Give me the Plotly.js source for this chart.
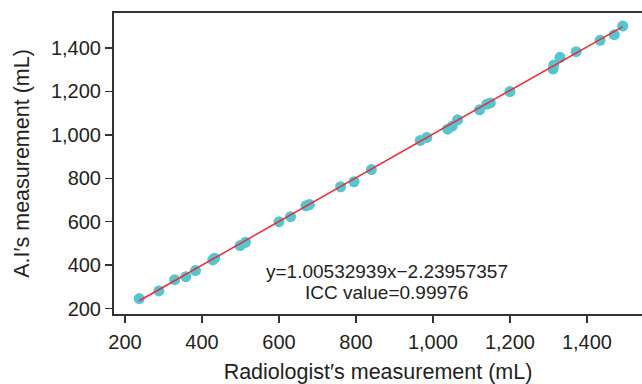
<!DOCTYPE html>
<html>
<head>
<meta charset="utf-8">
<script src="https://cdn.plot.ly/plotly-3.0.1.min.js"></script>
<style>html,body{margin:0;padding:0;background:#fff;}#chart{width:642px;height:384px;}</style>
</head>
<body>
<div id="chart"></div>
<script>
// Data
const radiologist = [237, 288, 329, 358, 383, 428, 433, 499, 513, 600, 630, 670, 679, 760, 795, 840, 967, 984, 1038, 1050, 1064, 1121, 1140, 1149, 1200, 1312, 1314, 1330, 1372, 1434, 1471, 1493];
const aiMeasure   = [246, 281, 333, 347, 375, 424, 432, 490, 505, 600, 623, 673, 679, 761, 784, 840, 974, 988, 1026, 1040, 1069, 1115, 1141, 1147, 1199, 1303, 1322, 1357, 1383, 1435, 1461, 1501];
const slope = 1.00532939;
const intercept = -2.23957357;
const iccValue = 0.99976;
const xTickVals = [200, 400, 600, 800, 1000, 1200, 1400];
const yTickVals = [200, 400, 600, 800, 1000, 1200, 1400];

const fitX = [Math.min(...radiologist), Math.max(...radiologist)];
const fitY = fitX.map(v => slope * v + intercept);

const fnt = "'Liberation Sans', Arial, sans-serif";
const txtColor = '#231f20';

const traces = [
  {
    x: radiologist, y: aiMeasure, type: 'scatter', mode: 'markers',
    marker: {color: '#55c5d1', size: 11, line: {width: 0}},
    hoverinfo: 'skip'
  },
  {
    x: fitX, y: fitY, type: 'scatter', mode: 'lines',
    line: {color: '#ee2a2f', width: 1.5},
    hoverinfo: 'skip'
  }
];

const layout = {
  width: 642, height: 384,
  margin: {l: 114, r: 0, t: 13, b: 70},
  paper_bgcolor: '#fff', plot_bgcolor: '#fff',
  showlegend: false,
  font: {family: fnt, size: 20, color: txtColor},
  xaxis: {
    range: [171.4, 1543],
    tickvals: xTickVals,
    ticktext: xTickVals.map(v => v.toLocaleString('en-US')),
    showgrid: false, zeroline: false,
    showline: true, linecolor: '#333', linewidth: 2, mirror: true,
    ticks: 'outside', ticklen: 7, tickwidth: 1.5, tickcolor: '#333',
    ticklabelstandoff: 2,
    tickfont: {family: fnt, size: 20, color: txtColor},
    title: {text: 'Radiologist\u2032s measurement (mL)', font: {family: fnt, size: 21.5, color: txtColor}, standoff: 12}
  },
  yaxis: {
    range: [175, 1561],
    tickvals: yTickVals,
    ticktext: yTickVals.map(v => v.toLocaleString('en-US')),
    showgrid: false, zeroline: false,
    showline: true, linecolor: '#333', linewidth: 2, mirror: false,
    ticks: 'outside', ticklen: 7, tickwidth: 1.5, tickcolor: '#333',
    tickfont: {family: fnt, size: 20, color: txtColor},
    title: {text: 'A.I\u2032s measurement (mL)', font: {family: fnt, size: 21.5, color: txtColor}, standoff: 15}
  },
  annotations: [
    {xref: 'paper', yref: 'paper', x: 0.517, y: 0.141, xanchor: 'center', yanchor: 'middle', showarrow: false,
     text: 'y=' + slope.toFixed(8) + 'x\u2212' + Math.abs(intercept).toFixed(8), font: {family: fnt, size: 19, color: txtColor}},
    {xref: 'paper', yref: 'paper', x: 0.517, y: 0.071, xanchor: 'center', yanchor: 'middle', showarrow: false,
     text: 'ICC value=' + iccValue, font: {family: fnt, size: 19, color: txtColor}}
  ]
};

Plotly.newPlot('chart', traces, layout, {staticPlot: true, displayModeBar: false});
</script>
</body>
</html>
